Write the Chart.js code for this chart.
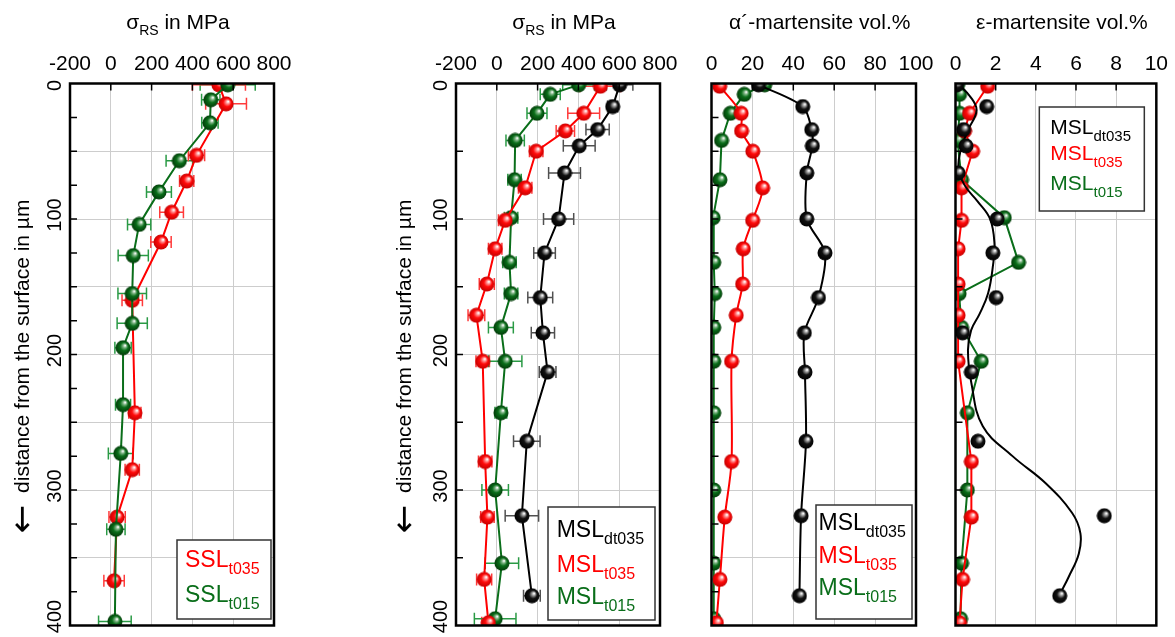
<!DOCTYPE html>
<html>
<head>
<meta charset="utf-8">
<script src="https://cdn.jsdelivr.net/npm/chart.js@4.4.1/dist/chart.umd.min.js"></script>
<style>
html, body { margin: 0; padding: 0; background: #fff; }
#wrap { position: relative; width: 1175px; height: 637px; }
#wrap canvas { position: absolute; left: 0; top: 0; }
</style>
</head>
<body>
<div id="wrap">
  <canvas id="panelSSL" width="1175" height="637"></canvas>
  <canvas id="panelMSL" width="1175" height="637"></canvas>
  <canvas id="panelAlpha" width="1175" height="637"></canvas>
  <canvas id="panelEps" width="1175" height="637"></canvas>
</div>
<script>
// ---- data (depth in µm) ----

// panel 1: SSL residual stress
const sslT035Depth  = [1, 15, 53, 72, 95, 117, 160, 243, 285, 320, 367];
const sslT035Stress = [530, 565, 420, 372, 298, 246, 105, 118, 105, 31, 16];
const sslT035Err    = [130, 100, 40, 35, 58, 50, 50, 30, 35, 40, 50];

const sslT015Depth  = [1, 12, 29, 57, 80, 104, 127, 155, 177, 195, 237, 273, 329, 397];
const sslT015Stress = [573, 490, 486, 336, 236, 139, 110, 105, 105, 60, 60, 49, 25, 20];
const sslT015Err    = [135, 45, 40, 65, 61, 57, 74, 70, 74, 40, 37, 61, 45, 80];

// panel 2: MSL residual stress
const mslDt035Depth  = [1, 17, 34, 46, 66, 100, 125, 158, 184, 213, 264, 319, 378];
const mslDt035Stress = [602, 568, 494, 404, 332, 303, 234, 213, 226, 249, 147, 123, 172];
const mslDt035Err    = [65, 25, 57, 78, 78, 74, 53, 61, 57, 41, 65, 82, 41];

const mslT035Depth  = [2, 22, 35, 50, 77, 101, 122, 148, 171, 205, 279, 320, 366, 398];
const mslT035Stress = [508, 426, 336, 193, 139, 41, -8, -49, -100, -69, -57, -46, -62, -41];
const mslT035Err    = [100, 78, 45, 33, 33, 33, 33, 37, 41, 33, 33, 33, 37, 33];

const mslT015Depth  = [1, 8, 22, 42, 71, 99, 132, 155, 180, 205, 243, 300, 354, 395];
const mslT015Stress = [401, 262, 197, 90, 87, 70, 62, 70, 20, 41, 20, -8, 25, -8];
const mslT015Err    = [78, 49, 49, 45, 33, 33, 33, 33, 61, 82, 29, 65, 82, 102];

// panel 3: alpha'-martensite vol.% (same depths as panel 2)
const alphaDt035 = [23, 44.6, 49, 49.3, 46.6, 46.6, 55.5, 52.3, 45.4, 45.7, 46.2, 43.8, 43];
const alphaT035  = [4, 14.5, 14.7, 20.2, 25, 20.1, 15.5, 15.2, 12.1, 9.8, 9.8, 6.5, 4.1, 2.4];
const alphaT015  = [26, 16, 9.2, 4.9, 4.1, 0.8, 1.1, 1.6, 1.1, 1.1, 1.1, 1.1, 1.1, 1.1];

// panel 4: epsilon-martensite vol.%
const epsDt035 = [0.05, 1.55, 0.4, 0.52, 0.13, 2.07, 1.86, 2.02, 0.35, 0.79, 1.12, 7.41, 5.19];
const epsT035  = [1.6, 0.7, 0.45, 0.85, 0.3, 0.3, 0.13, 0.13, 0.13, 0.13, 0.79, 0.79, 0.35, 0.2];
const epsT015  = [0.1, 0.2, 0.2, 0.1, 0.3, 2.43, 3.14, 0.18, 0.3, 1.28, 0.59, 0.59, 0.3, 0.25];
// smoothed fit through the MSLdt035 points
const epsFitDepth = [0, 10, 20, 35, 50, 62, 75, 87, 100, 118, 135, 155, 170, 182, 197, 221, 253, 275, 295, 317, 332, 347, 364, 376];
const epsFitValue = [0.1, 0.75, 1.05, 0.6, 0.25, 0.15, 0.45, 1.1, 1.72, 1.94, 1.86, 1.62, 1.2, 0.78, 0.62, 0.79, 1.36, 2.84, 4.49, 5.81, 6.22, 6.14, 5.64, 5.23];

const depthLabels = ['0', '100', '200', '300', '400'];
const depthTitle = 'distance from the surface in \u00b5m';

// ---- style ----
const FONT = "'Liberation Sans', Arial, sans-serif";
Chart.defaults.font.family = FONT;
Chart.defaults.color = '#000';
Chart.defaults.animation = false;

const RED = '#ff0000', GREEN = '#0a6e1a', BLACK = '#000000';
const GRID = '#cdcdcd';

function ball(light, base, dark) {
    const c = document.createElement('canvas');
    c.width = c.height = 16;
    const g = c.getContext('2d');
    const grad = g.createRadialGradient(10.2, 5.6, 0.4, 8, 8, 7.6);
    grad.addColorStop(0, '#ffffff');
    grad.addColorStop(0.2, light);
    grad.addColorStop(0.5, base);
    grad.addColorStop(1, dark);
    g.fillStyle = grad;
    g.beginPath();
    g.arc(8, 8, 7.5, 0, Math.PI * 2);
    g.fill();
    return c;
}
const redBall = ball('#ff9090', '#ff0a0a', '#c40000');
const greenBall = ball('#7fb585', '#0a6e1a', '#023a08');
const blackBall = ball('#9a9a9a', '#111111', '#000000');

function pts(values, depths) {
    return values.map((v, i) => ({ x: v, y: depths[i] }));
}

function series(label, values, depths, color, img, extra) {
    return Object.assign({
        label: label,
        data: pts(values, depths),
        showLine: true,
        borderColor: color,
        backgroundColor: color,
        borderWidth: 2,
        pointStyle: img,
        pointRadius: 7,
        tension: 0,
        clip: 0
    }, extra || {});
}

// error bars, frame, inward ticks, rotated depth labels, titles with subscripts, legend boxes
const panelDecor = {
    id: 'panelDecor',
    beforeDatasetsDraw(chart) {
        const ctx = chart.ctx, xs = chart.scales.x, ys = chart.scales.y, a = chart.chartArea;
        ctx.save();
        ctx.beginPath();
        ctx.rect(a.left, a.top, a.width, a.height);
        ctx.clip();
        chart.data.datasets.forEach(ds => {
            if (!ds.errorBars) return;
            ctx.strokeStyle = ds.errorColor;
            ctx.lineWidth = 1.5;
            ds.data.forEach((p, i) => {
                const e = ds.errorBars[i];
                if (!e) return;
                const y = ys.getPixelForValue(p.y);
                const x1 = xs.getPixelForValue(p.x - e), x2 = xs.getPixelForValue(p.x + e);
                ctx.beginPath();
                ctx.moveTo(x1, y); ctx.lineTo(x2, y);
                ctx.moveTo(x1, y - 6); ctx.lineTo(x1, y + 6);
                ctx.moveTo(x2, y - 6); ctx.lineTo(x2, y + 6);
                ctx.stroke();
            });
        });
        ctx.restore();
    },
    afterDraw(chart, args, o) {
        const ctx = chart.ctx, xs = chart.scales.x, ys = chart.scales.y, a = chart.chartArea;
        ctx.save();

        // inward ticks
        ctx.strokeStyle = '#000';
        ctx.lineWidth = 1.5;
        ctx.beginPath();
        for (let v = ys.min + o.minorStep; v < ys.max; v += o.minorStep) {
            const y = ys.getPixelForValue(v);
            ctx.moveTo(a.left, y); ctx.lineTo(a.left + 7, y);
        }
        xs.ticks.forEach(t => {
            if (t.value <= xs.min || t.value >= xs.max) return;
            const x = xs.getPixelForValue(t.value);
            ctx.moveTo(x, a.top); ctx.lineTo(x, a.top + 7);
        });
        ctx.stroke();

        // frame
        ctx.lineWidth = 2.5;
        ctx.strokeRect(a.left, a.top, a.width, a.height);

        // rotated depth labels and the depth title with its arrow
        if (o.depthLabels) {
            ctx.fillStyle = '#000';
            ctx.font = '20px ' + FONT;
            ctx.textAlign = 'center';
            ctx.textBaseline = 'middle';
            depthLabels.forEach(lbl => {
                let y = ys.getPixelForValue(Number(lbl)) - 4;
                y = Math.min(Math.max(y, a.top + 2), a.bottom - 9);
                ctx.save();
                ctx.translate(a.left - 15, y);
                ctx.rotate(-Math.PI / 2);
                ctx.fillText(lbl, 0, 0);
                ctx.restore();
            });

            ctx.save();
            ctx.translate(a.left - o.depthTitleOffset, (a.top + a.bottom) / 2 + 12);
            ctx.rotate(-Math.PI / 2);
            ctx.textAlign = 'left';
            ctx.font = '21px ' + FONT;
            const tw = ctx.measureText(depthTitle).width;
            ctx.font = "34px 'DejaVu Sans'";
            const aw = ctx.measureText('\u2190').width;
            let x = -(aw + 12 + tw) / 2;
            ctx.fillText('\u2190', x, 1);
            x += aw + 12;
            ctx.font = '21px ' + FONT;
            ctx.fillText(depthTitle, x, 0);
            ctx.restore();
        }

        // axis title with subscript parts
        ctx.textAlign = 'left';
        ctx.textBaseline = 'alphabetic';
        ctx.fillStyle = '#000';
        let w = 0;
        o.title.forEach(p => {
            ctx.font = (p.sub ? '14px ' : '21px ') + FONT;
            w += ctx.measureText(p.text).width;
        });
        let tx = (a.left + a.right) / 2 + 6 - w / 2;
        o.title.forEach(p => {
            ctx.font = (p.sub ? '14px ' : '21px ') + FONT;
            ctx.fillText(p.text, tx, p.sub ? 35 : 29);
            tx += ctx.measureText(p.text).width;
        });

        // legend box
        const L = o.legend;
        const bx = a.right - L.right - L.w;
        const by = L.top != null ? a.top + L.top : a.bottom - L.bottom - L.h;
        ctx.fillStyle = '#fff';
        ctx.fillRect(bx, by, L.w, L.h);
        ctx.strokeStyle = '#333';
        ctx.lineWidth = 1.5;
        ctx.strokeRect(bx, by, L.w, L.h);
        L.rows.forEach((r, i) => {
            const base = by + L.baselines[i];
            ctx.fillStyle = r.color;
            ctx.font = L.size + 'px ' + FONT;
            ctx.fillText(r.main, bx + L.inset, base);
            const mw = ctx.measureText(r.main).width;
            ctx.font = L.subSize + 'px ' + FONT;
            ctx.fillText(r.sub, bx + L.inset + mw, base + 7);
        });
        ctx.restore();
    }
};

function makePanel(id, p) {
    return new Chart(document.getElementById(id), {
        type: 'scatter',
        data: { datasets: p.datasets },
        options: {
            responsive: false,
            animation: false,
            layout: { padding: { left: p.left - p.yWidth, right: 1175 - p.right, top: 0, bottom: 11.5 } },
            plugins: {
                legend: { display: false },
                tooltip: { enabled: false },
                panelDecor: {
                    minorStep: p.minorStep,
                    depthLabels: p.depthLabels,
                    depthTitleOffset: p.depthTitleOffset,
                    title: p.title,
                    legend: p.legend
                }
            },
            scales: {
                x: {
                    type: 'linear',
                    position: 'top',
                    min: p.xMin,
                    max: p.xMax,
                    ticks: {
                        stepSize: p.xStep,
                        autoSkip: false,
                        maxRotation: 0,
                        minRotation: 0,
                        padding: 7,
                        color: '#000',
                        font: { size: 21 }
                    },
                    grid: { color: GRID, lineWidth: 1, drawTicks: false },
                    border: { display: false },
                    afterFit: s => { s.height = 83.5; }
                },
                y: {
                    type: 'linear',
                    reverse: true,
                    min: 0,
                    max: 400,
                    ticks: { display: false, stepSize: p.gridStep },
                    grid: { color: GRID, lineWidth: 1, drawTicks: false },
                    border: { display: false },
                    afterFit: s => { s.width = p.yWidth; }
                }
            }
        },
        plugins: [panelDecor]
    });
}

const stressTitle = [{ text: '\u03c3' }, { text: 'RS', sub: true }, { text: ' in MPa' }];

makePanel('panelSSL', {
    left: 70, right: 274, yWidth: 70, depthTitleOffset: 47,
    xMin: -200, xMax: 800, xStep: 200, gridStep: 50, minorStep: 25,
    depthLabels: true,
    title: stressTitle,
    legend: {
        right: 3, bottom: 6.5, w: 94, h: 79, inset: 8, size: 23, subSize: 16,
        baselines: [26.7, 61.7],
        rows: [{ main: 'SSL', sub: 't035', color: RED }, { main: 'SSL', sub: 't015', color: GREEN }]
    },
    datasets: [
        series('SSLt015', sslT015Stress, sslT015Depth, GREEN, greenBall, { errorBars: sslT015Err, errorColor: '#2a9a45' }),
        series('SSLt035', sslT035Stress, sslT035Depth, RED, redBall, { errorBars: sslT035Err, errorColor: '#ff3a3a' })
    ]
});

makePanel('panelMSL', {
    left: 456, right: 660, yWidth: 70, depthTitleOffset: 51,
    xMin: -200, xMax: 800, xStep: 200, gridStep: 100, minorStep: 50,
    depthLabels: true,
    title: stressTitle,
    legend: {
        right: 5, bottom: 5.5, w: 107, h: 113, inset: 8.7, size: 23, subSize: 16,
        baselines: [30, 65, 96.6],
        rows: [{ main: 'MSL', sub: 'dt035', color: BLACK }, { main: 'MSL', sub: 't035', color: RED }, { main: 'MSL', sub: 't015', color: GREEN }]
    },
    datasets: [
        series('MSLdt035', mslDt035Stress, mslDt035Depth, BLACK, blackBall, { errorBars: mslDt035Err, errorColor: '#505050' }),
        series('MSLt035', mslT035Stress, mslT035Depth, RED, redBall, { errorBars: mslT035Err, errorColor: '#ff3a3a' }),
        series('MSLt015', mslT015Stress, mslT015Depth, GREEN, greenBall, { errorBars: mslT015Err, errorColor: '#2a9a45' })
    ]
});

makePanel('panelAlpha', {
    left: 711.5, right: 916, yWidth: 10, depthTitleOffset: 0,
    xMin: 0, xMax: 100, xStep: 20, gridStep: 50, minorStep: 25,
    depthLabels: false,
    title: [{ text: '\u03b1\u00b4-martensite vol.%' }],
    legend: {
        right: 4, bottom: 6.5, w: 96, h: 114, inset: 2.5, size: 23, subSize: 16,
        baselines: [25, 58, 90],
        rows: [{ main: 'MSL', sub: 'dt035', color: BLACK }, { main: 'MSL', sub: 't035', color: RED }, { main: 'MSL', sub: 't015', color: GREEN }]
    },
    datasets: [
        series('MSLdt035', alphaDt035, mslDt035Depth, BLACK, blackBall, { tension: 0.3 }),
        series('MSLt035', alphaT035, mslT035Depth, RED, redBall, { tension: 0.3 }),
        series('MSLt015', alphaT015, mslT015Depth, GREEN, greenBall)
    ]
});

makePanel('panelEps', {
    left: 955.5, right: 1158, yWidth: 10, depthTitleOffset: 0,
    xMin: 0, xMax: 10, xStep: 2, gridStep: 100, minorStep: 50,
    depthLabels: false,
    title: [{ text: '\u03b5-martensite vol.%' }],
    legend: {
        right: 12, top: 23.5, w: 105, h: 104, inset: 11, size: 21, subSize: 15,
        baselines: [26.7, 53.3, 83.3],
        rows: [{ main: 'MSL', sub: 'dt035', color: BLACK }, { main: 'MSL', sub: 't035', color: RED }, { main: 'MSL', sub: 't015', color: GREEN }]
    },
    datasets: [
        series('MSLdt035', epsDt035, mslDt035Depth, BLACK, blackBall, { showLine: false }),
        series('fit', epsFitValue, epsFitDepth, BLACK, 'circle', { pointRadius: 0, tension: 0.4 }),
        series('MSLt035', epsT035, mslT035Depth, RED, redBall),
        series('MSLt015', epsT015, mslT015Depth, GREEN, greenBall)
    ]
});
</script>
</body>
</html>
